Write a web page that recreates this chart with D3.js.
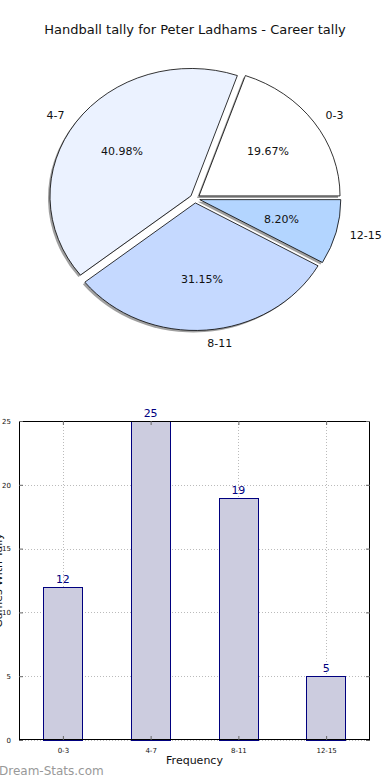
<!DOCTYPE html>
<html>
<head>
<meta charset="utf-8">
<script src="https://cdn.jsdelivr.net/npm/d3@7"></script>
<style>
  body { margin: 0; background: #fff; }
  svg { display: block; font-family: "DejaVu Sans", sans-serif; }
</style>
</head>
<body>
<div id="chart"></div>
<script>
// tally data
var categories = ["0-3", "4-7", "8-11", "12-15"];
var counts = [12, 25, 19, 5];
var pieColors = ["#ffffff", "#ebf2ff", "#c5d9ff", "#b3d5ff"];
var yTicks = [0, 5, 10, 15, 20, 25];

var W = 390, H = 780;
var svg = d3.select("#chart").append("svg")
    .attr("width", W)
    .attr("height", H);

svg.append("text")
    .attr("x", 195).attr("y", 34)
    .attr("text-anchor", "middle")
    .attr("font-size", 13)
    .attr("fill", "#111")
    .text("Handball tally for Peter Ladhams - Career tally");

// ---- pie (matplotlib style: starts at east, goes counter clockwise, elliptical) ----
var cx = 195, cy = 198.5, rx = 141, ry = 127.5, explode = 0.035;
var total = d3.sum(counts);

var pie = d3.pie().sort(null)
    .startAngle(Math.PI / 2)
    .endAngle(Math.PI / 2 - 2 * Math.PI)
    .value(function(d){ return d; })(counts);

var arc = d3.arc().innerRadius(0).outerRadius(1);

// unit vector for a d3 angle (0 = up, clockwise)
function dir(a){ return [Math.sin(a), -Math.cos(a)]; }

var pg = svg.append("g");

pie.forEach(function(d, i){
    var mid = (d.startAngle + d.endAngle) / 2;
    var u = dir(mid);
    var ox = cx + u[0] * explode * rx, oy = cy + u[1] * explode * ry;

    // shadow
    pg.append("path")
        .attr("d", arc(d))
        .attr("transform", "translate(" + (ox - 2) + "," + (oy + 2) + ") scale(" + rx + "," + ry + ")")
        .attr("fill", "#888")
        .attr("fill-opacity", 0.8)
        .attr("stroke", "none");
});

pie.forEach(function(d, i){
    var mid = (d.startAngle + d.endAngle) / 2;
    var u = dir(mid);
    var ox = cx + u[0] * explode * rx, oy = cy + u[1] * explode * ry;

    pg.append("path")
        .attr("d", arc(d))
        .attr("transform", "translate(" + ox + "," + oy + ") scale(" + rx + "," + ry + ")")
        .attr("fill", pieColors[i])
        .attr("stroke", "#000")
        .attr("stroke-width", 0.8)
        .attr("vector-effect", "non-scaling-stroke");

    // category label at 1.1 radius
    var lx = ox + u[0] * 1.1 * rx, ly = oy + u[1] * 1.1 * ry;
    pg.append("text")
        .attr("x", lx).attr("y", ly)
        .attr("dy", "0.35em")
        .attr("text-anchor", u[0] > 0 ? "start" : "end")
        .attr("font-size", 11)
        .attr("fill", "#111")
        .text(categories[i]);

    // percentage at 0.6 radius
    pg.append("text")
        .attr("x", ox + u[0] * 0.6 * rx).attr("y", oy + u[1] * 0.6 * ry)
        .attr("dy", "0.35em")
        .attr("text-anchor", "middle")
        .attr("font-size", 11)
        .attr("fill", "#111")
        .text((counts[i] / total * 100).toFixed(2) + "%");
});

// ---- bar chart ----
var bLeft = 19, bRight = 370, bTop = 421, bBottom = 740;

var x = d3.scaleLinear().domain([-0.5, categories.length - 0.5]).range([bLeft, bRight]);
var y = d3.scaleLinear().domain([0, 25]).range([bBottom, bTop]);
var barW = 0.45;

var bg = svg.append("g");

// grid
bg.selectAll("line.gy").data(yTicks).enter().append("line")
    .attr("x1", bLeft).attr("x2", bRight)
    .attr("y1", function(d){ return Math.round(y(d)) + 0.5; })
    .attr("y2", function(d){ return Math.round(y(d)) + 0.5; })
    .attr("stroke", "#bbb")
    .attr("stroke-width", 1)
    .attr("stroke-dasharray", "1,2");

bg.selectAll("line.gx").data(categories).enter().append("line")
    .attr("x1", function(d, i){ return Math.round(x(i)) + 0.5; })
    .attr("x2", function(d, i){ return Math.round(x(i)) + 0.5; })
    .attr("y1", bTop).attr("y2", bBottom)
    .attr("stroke", "#bbb")
    .attr("stroke-width", 1)
    .attr("stroke-dasharray", "1,2");

// bars
bg.selectAll("rect.bar").data(counts).enter().append("rect")
    .attr("x", function(d, i){ return Math.round(x(i - barW / 2)) + 0.5; })
    .attr("width", function(){ return Math.round(x(barW) - x(0)); })
    .attr("y", function(d){ return Math.round(y(d)) + 0.5; })
    .attr("height", function(d){ return Math.round(y(0) - y(d)); })
    .attr("fill", "#ccccdf")
    .attr("stroke", "#00007f")
    .attr("stroke-width", 1);

// value labels
bg.selectAll("text.val").data(counts).enter().append("text")
    .attr("x", function(d, i){ return x(i); })
    .attr("y", function(d){ return y(d) - 4; })
    .attr("text-anchor", "middle")
    .attr("font-size", 11)
    .attr("fill", "#00007f")
    .text(function(d){ return d; });

// frame
bg.append("rect")
    .attr("x", bLeft + 0.5).attr("y", bTop + 0.5)
    .attr("width", bRight - bLeft - 1).attr("height", bBottom - bTop - 1)
    .attr("fill", "none")
    .attr("stroke", "#000")
    .attr("stroke-width", 1);

// axes with inward ticks
var yAxis = d3.axisLeft(y).tickValues(yTicks).tickSize(-4).tickPadding(8);
var ga = bg.append("g").attr("transform", "translate(" + bLeft + ",0)").call(yAxis);
ga.select(".domain").remove();
ga.selectAll("line").attr("stroke", "#666");
ga.selectAll("text").attr("font-size", 7).attr("font-family", "DejaVu Sans").attr("fill", "#111");

var yAxisR = d3.axisRight(y).tickValues(yTicks).tickSize(-4).tickFormat("");
var gr = bg.append("g").attr("transform", "translate(" + bRight + ",0)").call(yAxisR);
gr.select(".domain").remove();
gr.selectAll("line").attr("stroke", "#666");

var xAxis = d3.axisBottom(x).tickValues(d3.range(categories.length))
    .tickFormat(function(i){ return categories[i]; })
    .tickSize(-4).tickPadding(8);
var gx = bg.append("g").attr("transform", "translate(0," + bBottom + ")").call(xAxis);
gx.select(".domain").remove();
gx.selectAll("line").attr("stroke", "#666");
gx.selectAll("text").attr("font-size", 7).attr("font-family", "DejaVu Sans").attr("fill", "#111");

var xAxisT = d3.axisTop(x).tickValues(d3.range(categories.length)).tickSize(-4).tickFormat("");
var gt = bg.append("g").attr("transform", "translate(0," + bTop + ")").call(xAxisT);
gt.select(".domain").remove();
gt.selectAll("line").attr("stroke", "#666");

bg.append("text")
    .attr("x", (bLeft + bRight) / 2).attr("y", 764)
    .attr("text-anchor", "middle")
    .attr("font-size", 11)
    .attr("fill", "#111")
    .text("Frequency");

// y label, mostly cut off at left edge like the original
bg.append("text")
    .attr("transform", "translate(2," + ((bTop + bBottom) / 2) + ") rotate(-90)")
    .attr("text-anchor", "middle")
    .attr("font-size", 11)
    .attr("fill", "#111")
    .text("Games With Tally");

// watermark
svg.append("text")
    .attr("x", -1).attr("y", 775)
    .attr("font-size", 12)
    .attr("fill", "#999")
    .text("Dream-Stats.com");
</script>
</body>
</html>
